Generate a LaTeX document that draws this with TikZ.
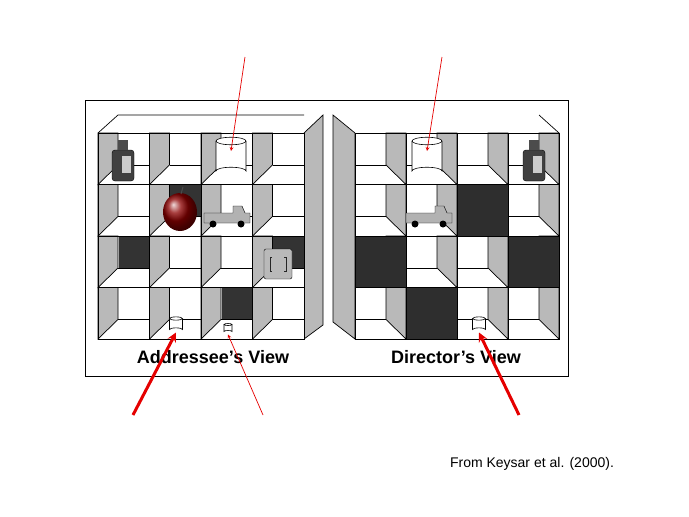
\documentclass[tikz,border=0pt]{standalone}
\usepackage{fontspec}
\setmainfont{Liberation Sans}
\begin{document}
\begin{tikzpicture}[x=1pt,y=-1pt,
    wall/.style={fill=gray!55, draw, line width=0.7pt},
    edge/.style={draw, line width=0.7pt},
    darkback/.style={fill=black!80},
    pointer/.style={red!90!black, ->, >=stealth, line width=0.7pt},
    bigpointer/.style={red!90!black, ->, >=stealth, line width=3pt},
    caption/.style={font=\bfseries\fontsize{18}{20}\selectfont}]
  \useasboundingbox (0,0) rectangle (689,517);
  \draw[line width=0.8pt] (85,100) rectangle (568,376);

  % addressee's shelf, walls on the left
  \draw[edge] (98,133) -- (118,115) -- (304,115);
  \filldraw[wall] (304,133) -- (323,115) -- (323,325) -- (304,339) -- cycle;
  \foreach \i in {0,...,3} \foreach \j in {0,...,3} {
    \begin{scope}[shift={({98+51.5*\i},{133+51.5*\j})}]
      \fill[white] (0,0) rectangle (51.5,51.5);
      \filldraw[wall] (0,0) -- (20,0) -- (20,32) -- (0,51.5) -- cycle;
      \draw[edge] (20,32) -- (51.5,32);
      \draw[edge] (0,0) rectangle (51.5,51.5);
    \end{scope}
  }
  \foreach \i/\j in {0/2, 1/1, 3/2, 2/3}
    \fill[darkback] ({98+51.5*\i+20.5},{133+51.5*\j+0.5}) rectangle ({98+51.5*\i+51},{133+51.5*\j+31.5});

  % director's shelf, walls on the right
  \draw[edge] (559,133) -- (539,115);
  \filldraw[wall] (355,133) -- (333,115) -- (333,322) -- (355,339) -- cycle;
  \foreach \i in {0,...,3} \foreach \j in {0,...,3} {
    \begin{scope}[shift={({355+51*\i},{133+51.5*\j})}]
      \fill[white] (0,0) rectangle (51,51.5);
      \filldraw[wall] (51,0) -- (31,0) -- (31,32) -- (51,51.5) -- cycle;
      \draw[edge] (31,32) -- (0,32);
      \draw[edge] (0,0) rectangle (51,51.5);
    \end{scope}
  }
  \foreach \i/\j in {2/1, 0/2, 3/2, 1/3}
    \filldraw[fill=black!82, draw] ({355+51*\i},{133+51.5*\j}) rectangle ({355+51*\i+51},{133+51.5*\j+51.5});

  % candles
  \foreach \cx/\cy/\w/\h/\nm in {231/156/30/30/bigL, 427/156/30/30/bigR,
      176/324/13/11/midL, 228/328/8/7/tinyL, 479/324/13/11/midR} {
    \filldraw[fill=white, draw, line width=0.6pt]
      ({\cx-\w/2},{\cy-\h/2}) -- ({\cx-\w/2},{\cy+\h/2}) arc[start angle=180, end angle=360, x radius=\w/2, y radius=\w/8]
      -- ({\cx+\w/2},{\cy-\h/2});
    \draw[fill=white, line width=0.6pt] (\cx,{\cy-\h/2}) ellipse[x radius=\w/2, y radius=\w/8];
    \coordinate (\nm) at (\cx,{\cy-\h/2-2});
    \coordinate (\nm-base) at (\cx,{\cy+\h/2+3});
  }

  % bottles
  \foreach \bx/\by in {123/162, 534/162} {
    \filldraw[fill=black!75, draw, rounded corners=3pt] ({\bx-11},{\by-12}) rectangle ({\bx+11},{\by+19});
    \fill[black!70] ({\bx-5},{\by-22}) rectangle ({\bx+5},{\by-12});
    \fill[gray!40] ({\bx-1},{\by-6}) rectangle ({\bx+8},{\by+11});
  }

  % apple
  \shade[ball color=red!55!black] (180,212) circle[x radius=17, y radius=19];
  \draw[black!70, line width=1pt] (181,194) -- (183,187);

  % trucks
  \foreach \tx/\ty in {228/219, 430/219} {
    \filldraw[fill=gray!60, draw] ({\tx-24},{\ty-6}) -- ({\tx+5},{\ty-6}) -- ({\tx+5},{\ty-13})
      -- ({\tx+14},{\ty-13}) -- ({\tx+17},{\ty-6}) -- ({\tx+22},{\ty-6}) -- ({\tx+22},{\ty+4}) -- ({\tx-24},{\ty+4}) -- cycle;
    \fill[black] ({\tx-15},{\ty+5}) circle[radius=3.5] ({\tx+13},{\ty+5}) circle[radius=3.5];
  }

  % block
  \filldraw[fill=gray!55, draw, rounded corners=2pt] (264,249) rectangle (292,279);
  \draw[gray!30!black, line width=0.8pt] (272,257) -- (270,257) -- (270,271) -- (272,271)
    (284,257) -- (286,257) -- (286,271) -- (284,271);

  % captions
  \node[caption] (addressee) at (213,357) {Addressee's View};
  \node[caption] (director) at (456,357) {Director's View};
  \node[font=\fontsize{14}{16}\selectfont] (source) at (532,464) {From Keysar et al. (2000).};

  % pointers
  \coordinate (topL) at (245,57);
  \coordinate (topR) at (442,57);
  \coordinate (botA) at (133,415);
  \coordinate (botB) at (263,415);
  \coordinate (botC) at (519,415);
  \draw[pointer] (topL) -- ([yshift=-12pt]bigL);
  \draw[pointer] (topR) -- ([yshift=-12pt]bigR);
  \draw[bigpointer] (botA) -- (midL-base);
  \draw[pointer] (botB) -- (tinyL-base);
  \draw[bigpointer] (botC) -- (midR-base);
\end{tikzpicture}
\end{document}
